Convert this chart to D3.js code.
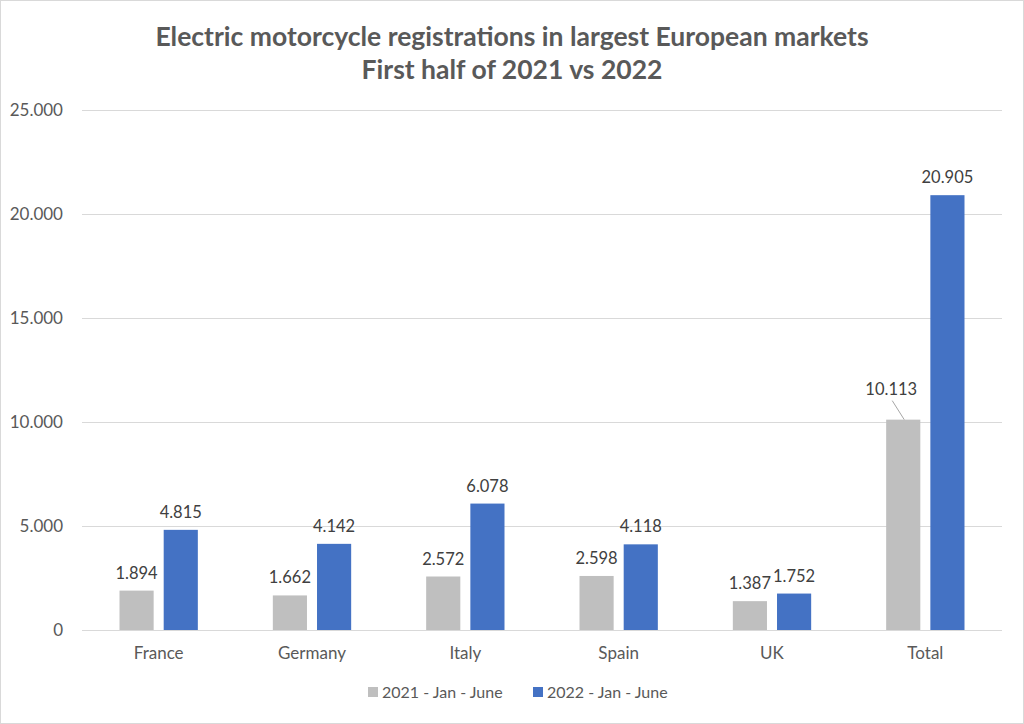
<!DOCTYPE html>
<html>
<head>
<meta charset="utf-8">
<script src="https://cdn.jsdelivr.net/npm/d3@7"></script>
<style>
  html, body { margin: 0; padding: 0; background: #fff; }
  svg { display: block; }
</style>
</head>
<body>
<script>
const categories = ["France", "Germany", "Italy", "Spain", "UK", "Total"];
const seriesNames = ["2021 - Jan - June", "2022 - Jan - June"];
const values2021 = [1894, 1662, 2572, 2598, 1387, 10113];
const values2022 = [4815, 4142, 6078, 4118, 1752, 20905];
const yTicks = [0, 5000, 10000, 15000, 20000, 25000];
const titleLines = ["Electric motorcycle registrations in largest European markets", "First half of 2021 vs 2022"];
const colors = ["#bfbfbf", "#4472c4"];

const W = 1024, H = 724;
const margin = { left: 82, right: 22, top: 110, bottom: 94 };
const font = "Lato, 'Open Sans', sans-serif";

const svg = d3.select("body").append("svg").attr("width", W).attr("height", H);

svg.append("rect").attr("x", 0.5).attr("y", 0.5).attr("width", W - 1).attr("height", H - 1)
  .attr("fill", "#fff").attr("stroke", "#d9d9d9");

svg.append("g").selectAll("text").data(titleLines).join("text")
  .attr("x", 512).attr("y", (d, i) => 46 + i * 33)
  .attr("text-anchor", "middle")
  .attr("font-family", font).attr("font-weight", "bold").attr("font-size", 26.5)
  .attr("fill", "#595959").text(d => d);

const x = d3.scaleBand().domain(categories).range([margin.left, W - margin.right]).paddingInner(0).paddingOuter(0);
const y = d3.scaleLinear().domain([0, 25000]).range([H - margin.bottom, margin.top]);
const x1 = d3.scaleBand().domain([0, 1]).range([37.5, x.bandwidth() - 37.5]).paddingInner(10 / 44).paddingOuter(0);

// gridlines
svg.append("g").selectAll("line").data(yTicks).join("line")
  .attr("x1", margin.left).attr("x2", W - margin.right)
  .attr("y1", d => Math.round(y(d)) + 0.5).attr("y2", d => Math.round(y(d)) + 0.5)
  .attr("stroke", "#d9d9d9").attr("stroke-width", 1);

// y axis labels
const yAxis = d3.axisLeft(y).tickValues(yTicks).tickSize(0).tickPadding(19)
  .tickFormat(d => d === 0 ? "0" : d3.format(",")(d).replace(/,/g, "."));
const gy = svg.append("g").attr("transform", `translate(${margin.left},0)`).call(yAxis);
gy.select(".domain").remove();
gy.selectAll("text").attr("font-family", font).attr("font-size", 17).attr("fill", "#595959");

// x axis labels
const xAxis = d3.axisBottom(x).tickSize(0).tickPadding(17);
const gx = svg.append("g").attr("transform", `translate(0,${y(0)})`).call(xAxis);
gx.select(".domain").remove();
gx.selectAll("text").attr("font-family", font).attr("font-size", 17).attr("fill", "#595959");

const fmt = v => d3.format(",")(v).replace(/,/g, ".");
const rows = categories.map((c, i) => ({ c, vals: [values2021[i], values2022[i]] }));

const groups = svg.append("g").selectAll("g").data(rows).join("g")
  .attr("transform", d => `translate(${x(d.c)},0)`);

groups.selectAll("rect").data(d => d.vals.map((v, s) => ({ v, s }))).join("rect")
  .attr("x", d => x1(d.s)).attr("width", x1.bandwidth())
  .attr("y", d => y(d.v)).attr("height", d => y(0) - y(d.v))
  .attr("fill", d => colors[d.s]);

groups.each(function (d) {
  const g = d3.select(this);
  d.vals.forEach((v, s) => {
    let lx = x1(s) + x1.bandwidth() / 2;
    let ly = y(v) - 12;
    const isTotal2021 = d.c === "Total" && s === 0;
    if (isTotal2021) {
      g.append("line")
        .attr("x1", lx - 11).attr("y1", y(v) - 19)
        .attr("x2", lx + 1).attr("y2", y(v))
        .attr("stroke", "#a6a6a6").attr("stroke-width", 1);
      lx = lx - 12;
      ly = y(v) - 25;
    }
    g.append("text").attr("x", lx).attr("y", ly)
      .attr("text-anchor", "middle")
      .attr("font-family", font).attr("font-size", 16.5).attr("fill", "#404040")
      .text(fmt(v));
  });
});

// legend
const legend = svg.append("g").attr("transform", "translate(368,692)");
const legX = [0, 165];
seriesNames.forEach((n, i) => {
  legend.append("rect").attr("x", legX[i]).attr("y", -5).attr("width", 10).attr("height", 10).attr("fill", colors[i]);
  legend.append("text").attr("x", legX[i] + 14).attr("y", 6)
    .attr("font-family", font).attr("font-size", 16).attr("fill", "#595959").text(n);
});
</script>
</body>
</html>
